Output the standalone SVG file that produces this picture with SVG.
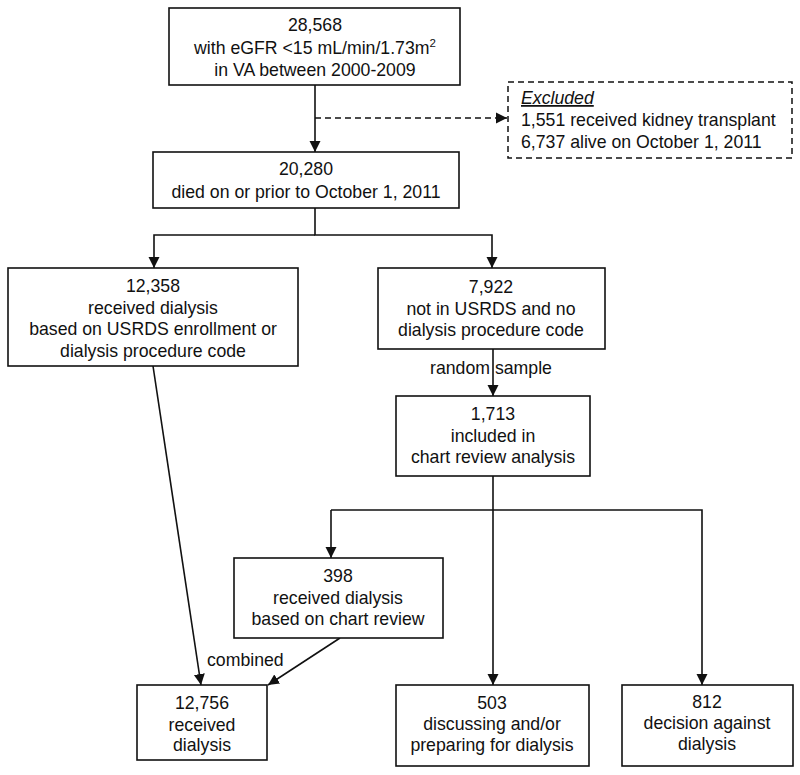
<svg xmlns="http://www.w3.org/2000/svg" width="800" height="775" viewBox="0 0 800 775">
<defs>
<marker id="ah" markerWidth="12" markerHeight="12" refX="11" refY="6" orient="auto" markerUnits="userSpaceOnUse">
<path d="M0,0.5 L11,6 L0,11.5 Z" fill="#111"/>
</marker>
<style>
.box{fill:#fff;stroke:#111;stroke-width:1.6}
.dbox{fill:#fff;stroke:#111;stroke-width:1.5;stroke-dasharray:6,4}
.ln{fill:none;stroke:#111;stroke-width:1.6}
.dl{fill:none;stroke:#111;stroke-width:1.5;stroke-dasharray:6,4}
text{font-family:"Liberation Sans",Arial,sans-serif;font-size:17.7px;fill:#111}
.c{text-anchor:middle}
</style>
</defs>
<rect width="800" height="775" fill="#fff"/>
<g id="connectors">
<path class="ln" d="M315,85 V152" marker-end="url(#ah)"/>
<path class="dl" d="M315,118 H507" marker-end="url(#ah)"/>
<path class="ln" d="M315,208 V235 H492 V268" marker-end="url(#ah)"/>
<path class="ln" d="M315,235 H154 V268" marker-end="url(#ah)"/>
<path class="ln" d="M493,349 V396" marker-end="url(#ah)"/>
<path class="ln" d="M493,476 V685" marker-end="url(#ah)"/>
<path class="ln" d="M331,510 H702 V685" marker-end="url(#ah)"/>
<path class="ln" d="M331,510 V558" marker-end="url(#ah)"/>
<path class="ln" d="M153,366 L201,685" marker-end="url(#ah)"/>
<path class="ln" d="M340,638 L268,685" marker-end="url(#ah)"/>
<text x="430" y="374">random sample</text>
<text x="207" y="666">combined</text>
</g>
<g id="n1">
<rect class="box" x="169" y="8" width="291" height="77"/>
<text class="c" x="315" y="31">28,568</text>
<text class="c" x="315" y="54">with eGFR &lt;15 mL/min/1.73m<tspan font-size="11.5" dy="-7">2</tspan></text>
<text class="c" x="315" y="76">in VA between 2000-2009</text>
</g>
<g id="excluded">
<rect class="dbox" x="508" y="82" width="284" height="76"/>
<text x="521" y="104" font-style="italic" text-decoration="underline">Excluded</text>
<text x="521" y="126">1,551 received kidney transplant</text>
<text x="521" y="148">6,737 alive on October 1, 2011</text>
</g>
<g id="n2">
<rect class="box" x="153" y="152" width="306" height="56"/>
<text class="c" x="306" y="175">20,280</text>
<text class="c" x="306" y="198">died on or prior to October 1, 2011</text>
</g>
<g id="n3">
<rect class="box" x="8" y="268" width="290" height="98"/>
<text class="c" x="153" y="292">12,358</text>
<text class="c" x="153" y="314">received dialysis</text>
<text class="c" x="153" y="335">based on USRDS enrollment or</text>
<text class="c" x="153" y="357">dialysis procedure code</text>
</g>
<g id="n4">
<rect class="box" x="378" y="268" width="227" height="81"/>
<text class="c" x="491" y="293">7,922</text>
<text class="c" x="491" y="315">not in USRDS and no</text>
<text class="c" x="491" y="336">dialysis procedure code</text>
</g>
<g id="n5">
<rect class="box" x="396" y="396" width="194" height="80"/>
<text class="c" x="493" y="420">1,713</text>
<text class="c" x="493" y="442">included in</text>
<text class="c" x="493" y="463">chart review analysis</text>
</g>
<g id="n6">
<rect class="box" x="234" y="558" width="209" height="80"/>
<text class="c" x="338" y="582">398</text>
<text class="c" x="338" y="604">received dialysis</text>
<text class="c" x="338" y="625">based on chart review</text>
</g>
<g id="n7">
<rect class="box" x="137" y="685" width="130" height="75"/>
<text class="c" x="202" y="709">12,756</text>
<text class="c" x="202" y="731">received</text>
<text class="c" x="202" y="751">dialysis</text>
</g>
<g id="n8">
<rect class="box" x="396" y="685" width="193" height="81"/>
<text class="c" x="492" y="709">503</text>
<text class="c" x="492" y="730">discussing and/or</text>
<text class="c" x="492" y="751">preparing for dialysis</text>
</g>
<g id="n9">
<rect class="box" x="622" y="685" width="171" height="81"/>
<text class="c" x="707" y="708">812</text>
<text class="c" x="707" y="729">decision against</text>
<text class="c" x="707" y="750">dialysis</text>
</g>
</svg>
